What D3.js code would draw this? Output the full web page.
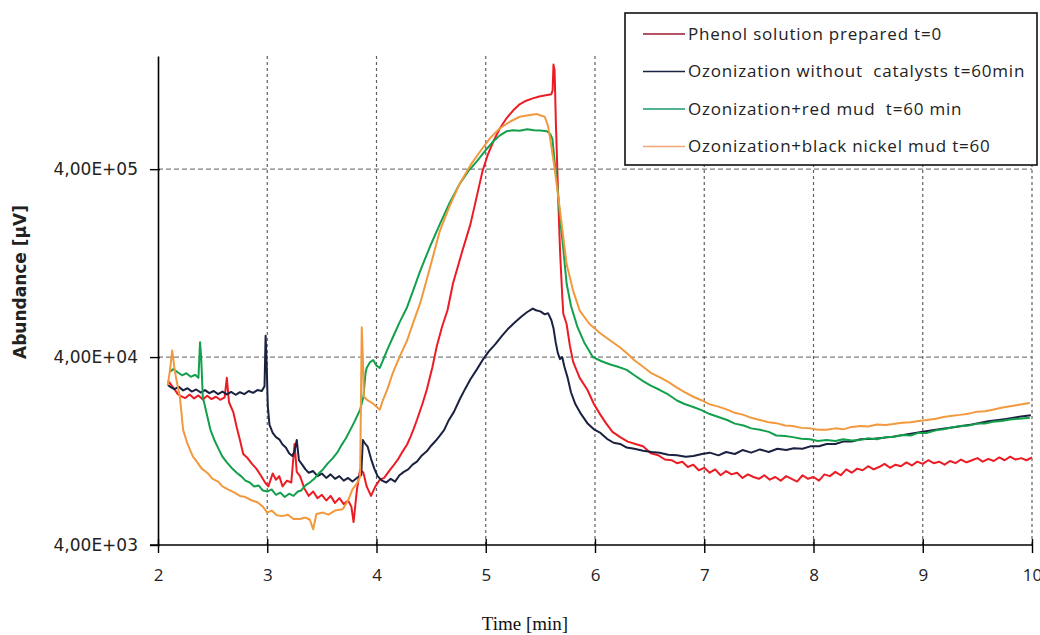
<!DOCTYPE html>
<html>
<head>
<meta charset="utf-8">
<script src="https://cdn.jsdelivr.net/npm/d3@7"></script>
<style>
  body { margin: 0; background: #fff; }
  svg { display: block; }
</style>
</head>
<body>
<div id="chart"></div>
<script>
// values: [time min, abundance µV]
const phenol = [
  [2.09,30000],[2.12,28500],[2.15,27000],[2.18,25500],[2.21,24800],[2.25,24200],[2.29,25300],[2.33,24100],
  [2.37,25000],[2.41,23800],[2.45,24900],[2.49,23900],[2.53,24600],[2.57,23700],[2.61,24400],[2.63,31000],
  [2.65,23000],[2.69,20300],[2.72,17000],[2.75,14500],[2.78,12200],[2.82,11600],[2.86,10800],[2.90,10200],
  [2.94,9400],[2.98,8600],[3.01,8200],[3.05,9600],[3.08,8900],[3.11,9300],[3.14,8200],[3.18,8800],
  [3.22,8600],[3.25,13800],[3.27,9800],[3.30,9300],[3.34,8000],[3.38,7300],[3.42,7700],[3.46,7100],
  [3.50,7400],[3.54,6900],[3.58,7300],[3.62,6700],[3.66,7100],[3.70,6600],[3.74,6900],[3.77,6400],
  [3.79,5300],[3.82,7800],[3.85,10100],[3.88,9700],[3.91,8200],[3.95,7300],[3.99,8200],[4.03,8900],
  [4.07,9100],[4.11,9800],[4.15,10500],[4.20,11500],[4.24,12600],[4.28,13700],[4.31,15000],[4.34,16600],
  [4.37,18500],[4.42,22500],[4.46,26800],[4.51,35000],[4.55,45200],[4.60,58000],[4.65,71000],[4.70,98500],
  [4.78,143000],[4.86,204000],[4.92,290000],[4.97,390000],[5.02,480000],[5.07,563000],[5.13,660000],
  [5.19,746000],[5.25,820000],[5.31,885000],[5.37,925000],[5.43,952000],[5.49,975000],[5.55,990000],
  [5.60,1000000],[5.612,1050000],[5.62,1440000],[5.63,1350000],[5.642,700000],[5.65,500000],[5.665,260000],
  [5.68,147000],[5.70,85000],[5.71,68000],[5.74,60000],[5.77,46000],[5.80,37700],[5.86,31000],[5.93,26800],
  [5.99,22500],[6.05,19700],[6.10,17800],[6.16,16000],[6.23,15000],[6.30,14200],[6.37,13800],[6.44,13400],
  [6.51,12300],[6.58,12000],[6.64,11400],[6.70,11300],[6.75,10900],[6.80,11100],[6.85,10400],[6.90,10700],
  [6.95,10000],[7.00,10300],[7.05,9700],[7.10,10100],[7.15,9400],[7.20,9900],[7.25,9500],[7.30,9700],
  [7.35,9100],[7.40,9500],[7.45,9200],[7.50,9000],[7.55,9400],[7.60,8900],[7.65,9200],[7.70,8800],
  [7.75,9300],[7.80,9000],[7.85,8700],[7.90,9400],[7.95,9000],[8.00,9200],[8.05,8800],[8.10,9500],
  [8.15,9300],[8.20,9800],[8.25,9400],[8.30,10100],[8.35,9700],[8.40,10200],[8.45,10000],[8.50,10500],
  [8.55,10100],[8.60,10400],[8.65,10800],[8.70,10300],[8.75,10700],[8.80,10500],[8.85,11000],[8.90,10600],
  [8.95,11100],[9.00,10800],[9.05,11300],[9.10,10900],[9.15,11100],[9.20,10700],[9.25,11200],[9.30,10900],
  [9.35,11400],[9.40,11000],[9.45,11300],[9.50,11600],[9.55,11100],[9.60,11500],[9.65,11200],[9.70,11700],
  [9.75,11300],[9.80,11800],[9.85,11400],[9.90,11600],[9.95,11300],[10.0,11700]
];

const ozonNoCat = [
  [2.09,28400],[2.12,27600],[2.15,27000],[2.19,27800],[2.23,26600],[2.27,27300],[2.31,26200],[2.35,26900],
  [2.39,25900],[2.43,26700],[2.47,25700],[2.51,26400],[2.55,25400],[2.59,26200],[2.63,25300],[2.67,26100],
  [2.71,25200],[2.75,26000],[2.79,25400],[2.83,26400],[2.87,25800],[2.91,26700],[2.95,26400],[2.975,28000],
  [2.985,52000],[2.995,36000],[3.005,22000],[3.02,17500],[3.05,15800],[3.08,15000],[3.11,14600],[3.14,13700],
  [3.17,13200],[3.20,12300],[3.23,11900],[3.25,12600],[3.27,14500],[3.29,11300],[3.32,10700],[3.35,10100],
  [3.38,9700],[3.42,9900],[3.46,9300],[3.50,9600],[3.54,9100],[3.58,9500],[3.62,9000],[3.66,9300],
  [3.70,8800],[3.74,9100],[3.78,8700],[3.82,9100],[3.86,9400],[3.875,14500],[3.89,14000],[3.92,13300],
  [3.95,11500],[3.98,10200],[4.01,9300],[4.05,8800],[4.09,8600],[4.13,9000],[4.17,8700],[4.21,9400],
  [4.25,9800],[4.29,10100],[4.33,10700],[4.37,11100],[4.41,11900],[4.46,12600],[4.50,13500],[4.54,14300],
  [4.58,15300],[4.62,16400],[4.66,18400],[4.71,20500],[4.76,23700],[4.81,27000],[4.86,30500],[4.92,34500],
  [4.97,38500],[5.03,43000],[5.09,47000],[5.15,52000],[5.21,57000],[5.27,61500],[5.33,66000],[5.38,69500],
  [5.43,72500],[5.46,71000],[5.50,70000],[5.54,67500],[5.57,68500],[5.60,63000],[5.62,57000],[5.64,48000],
  [5.66,42000],[5.68,39000],[5.70,40000],[5.72,35500],[5.75,31000],[5.78,26000],[5.82,22500],[5.87,20000],
  [5.93,17800],[5.99,16500],[6.05,15800],[6.11,14700],[6.17,14000],[6.23,13800],[6.29,13200],[6.36,13000],
  [6.44,12700],[6.52,12500],[6.59,12400],[6.67,12100],[6.75,12000],[6.83,11800],[6.90,11900],[6.98,12200],
  [7.05,12400],[7.13,12000],[7.20,12500],[7.28,12200],[7.35,12800],[7.43,12400],[7.51,12900],[7.59,12500],
  [7.67,13000],[7.75,12800],[7.82,13100],[7.90,13000],[7.97,13400],[8.05,13400],[8.12,13800],[8.20,13800],
  [8.27,14200],[8.35,14200],[8.43,14600],[8.55,14700],[8.70,15000],[8.85,15500],[9.00,16000],[9.15,16500],
  [9.30,17000],[9.45,17500],[9.60,18200],[9.75,18700],[9.90,19300],[9.99,19600]
];

const ozonRedMud = [
  [2.11,33400],[2.14,34500],[2.18,33200],[2.22,32000],[2.26,32800],[2.30,31400],[2.34,32200],[2.37,31000],
  [2.385,48000],[2.395,40000],[2.41,24600],[2.45,19500],[2.48,16400],[2.52,14300],[2.56,12800],[2.59,11800],
  [2.63,11000],[2.68,10200],[2.72,9700],[2.76,9300],[2.80,8800],[2.84,8600],[2.88,8200],[2.92,8300],
  [2.96,7800],[3.00,7700],[3.04,7900],[3.08,7400],[3.12,7600],[3.16,7200],[3.20,7500],[3.24,7300],
  [3.28,7700],[3.31,7800],[3.35,8300],[3.39,8600],[3.43,9000],[3.47,9600],[3.51,10100],[3.55,10800],
  [3.60,11600],[3.64,12400],[3.68,13600],[3.72,14800],[3.76,16400],[3.80,18200],[3.85,21000],[3.88,24600],
  [3.90,33000],[3.91,35000],[3.94,37500],[3.97,38600],[4.00,36000],[4.03,35000],[4.06,38500],[4.10,44000],
  [4.15,51000],[4.21,61000],[4.28,73700],[4.34,92000],[4.40,115000],[4.49,155000],[4.58,204000],[4.67,265000],
  [4.76,333000],[4.84,390000],[4.92,441000],[5.00,505000],[5.07,563000],[5.13,605000],[5.19,636000],
  [5.25,645000],[5.31,640000],[5.38,652000],[5.44,645000],[5.50,642000],[5.56,636000],[5.59,615000],
  [5.61,580000],[5.63,441000],[5.655,330000],[5.68,220000],[5.71,150000],[5.74,98500],[5.78,75000],
  [5.84,57700],[5.90,48000],[5.98,40000],[6.06,38000],[6.14,36500],[6.21,35500],[6.29,34200],[6.36,32000],
  [6.44,29800],[6.51,28200],[6.59,26800],[6.67,25300],[6.75,23500],[6.82,22500],[6.90,21700],[6.98,20800],
  [7.05,19900],[7.13,19200],[7.21,18500],[7.28,17700],[7.36,17300],[7.43,16700],[7.51,16400],[7.59,16000],
  [7.66,15300],[7.74,15200],[7.81,15000],[7.89,14700],[7.97,14600],[8.04,14300],[8.12,14500],[8.20,14300],
  [8.27,14600],[8.35,14400],[8.43,14500],[8.50,14800],[8.58,14600],[8.66,15000],[8.73,15000],[8.81,15400],
  [8.89,15300],[8.96,15800],[9.04,15800],[9.12,16300],[9.19,16500],[9.27,16900],[9.34,17200],[9.42,17300],
  [9.50,17700],[9.57,17700],[9.64,18100],[9.72,18300],[9.80,18600],[9.88,18800],[9.98,19000]
];

const ozonNiMud = [
  [2.09,28400],[2.11,34200],[2.13,43400],[2.15,35000],[2.17,30000],[2.20,24600],[2.23,16400],[2.27,13800],
  [2.32,11800],[2.36,11000],[2.40,10200],[2.45,9700],[2.50,9000],[2.55,8700],[2.59,8200],[2.64,7900],
  [2.70,7600],[2.75,7300],[2.80,7200],[2.86,6900],[2.91,6750],[2.96,6400],[3.00,5950],[3.04,6100],
  [3.09,5750],[3.14,5700],[3.19,5800],[3.24,5500],[3.30,5500],[3.35,5600],[3.39,5450],[3.42,4850],
  [3.45,5850],[3.51,5950],[3.56,5800],[3.62,6100],[3.69,6200],[3.74,6900],[3.78,7900],[3.82,8500],
  [3.85,9200],[3.865,57700],[3.875,40000],[3.885,24600],[3.92,23500],[3.97,22600],[4.01,21500],[4.03,21000],
  [4.06,23700],[4.10,27000],[4.15,33000],[4.21,40000],[4.28,49000],[4.34,62000],[4.40,77400],[4.49,120000],
  [4.58,188000],[4.67,255000],[4.76,333000],[4.86,420000],[4.95,498000],[5.04,585000],[5.13,660000],
  [5.22,715000],[5.31,760000],[5.39,775000],[5.47,785000],[5.51,770000],[5.54,760000],[5.57,680000],
  [5.59,580000],[5.63,405000],[5.68,240000],[5.74,125000],[5.80,90000],[5.86,70700],[5.95,60000],
  [6.05,53400],[6.14,49000],[6.23,45000],[6.29,42000],[6.36,38500],[6.44,35500],[6.51,33000],[6.59,31300],
  [6.67,29500],[6.75,27500],[6.82,26000],[6.90,24600],[6.98,23500],[7.05,22400],[7.13,21800],[7.21,21000],
  [7.28,20200],[7.36,19700],[7.43,19000],[7.51,18500],[7.59,18000],[7.66,17800],[7.74,17300],[7.81,17200],
  [7.89,16800],[7.97,16700],[8.04,16400],[8.12,16400],[8.20,16700],[8.27,16500],[8.35,17000],[8.43,17200],
  [8.50,17100],[8.58,17500],[8.66,17400],[8.73,17600],[8.81,17900],[8.89,18000],[8.96,18300],[9.04,18500],
  [9.12,18800],[9.19,19200],[9.27,19500],[9.34,19700],[9.42,20000],[9.50,20500],[9.57,20600],[9.64,21000],
  [9.72,21500],[9.80,21900],[9.88,22300],[9.98,22800]
];

const seriesNames = [
  "Phenol solution prepared t=0",
  "Ozonization without  catalysts t=60min",
  "Ozonization+red mud  t=60 min",
  "Ozonization+black nickel mud t=60"
];
const seriesColors = ["#ec1c24", "#1b2140", "#13a04c", "#f2993e"];
const legendColors = ["#9c1830", "#1b2140", "#1a9a6a", "#f0a878"];
const xTicks = [2, 3, 4, 5, 6, 7, 8, 9, 10];
const yTicks = [4000, 40000, 400000];

const width = 1040,
  height = 635;
const plot = { left: 158, right: 1032, top: 56, bottom: 545 };

const svg = d3
  .select("#chart")
  .append("svg")
  .attr("width", width)
  .attr("height", height);

const x = d3.scaleLinear().domain([2, 10]).range([plot.left, plot.right]);
const y = d3.scaleLog().domain([4000, 1.6e6]).range([plot.bottom, plot.top]);

// gridlines
svg
  .append("g")
  .selectAll("line")
  .data(yTicks.slice(1))
  .enter()
  .append("line")
  .attr("x1", plot.left)
  .attr("x2", plot.right)
  .attr("y1", (d) => y(d))
  .attr("y2", (d) => y(d))
  .attr("stroke", "#808080")
  .attr("stroke-width", 1.2)
  .attr("stroke-dasharray", "5,3");

svg
  .append("g")
  .selectAll("line")
  .data(xTicks.slice(1))
  .enter()
  .append("line")
  .attr("x1", (d) => x(d))
  .attr("x2", (d) => x(d))
  .attr("y1", plot.top)
  .attr("y2", plot.bottom)
  .attr("stroke", "#606060")
  .attr("stroke-width", 1.2)
  .attr("stroke-dasharray", "3,3");

// curves
const line = d3
  .line()
  .x((d) => x(d[0]))
  .y((d) => y(d[1]));

[phenol, ozonNoCat, ozonRedMud, ozonNiMud].forEach((s, i) => {
  svg
    .append("path")
    .datum(s)
    .attr("fill", "none")
    .attr("stroke", seriesColors[i])
    .attr("stroke-width", 2)
    .attr("stroke-linejoin", "round")
    .attr("d", line);
});

// axes
const yAxis = svg
  .append("g")
  .attr("transform", `translate(${plot.left},0)`)
  .call(
    d3
      .axisLeft(y)
      .tickValues(yTicks)
      .tickSizeInner(8)
      .tickSizeOuter(0)
      .tickPadding(12)
      .tickFormat((d) => `4,00E+0${Math.floor(Math.log10(d))}`)
  );
yAxis.select(".domain").attr("stroke", "#000").attr("stroke-width", 1.6);
yAxis.selectAll(".tick line").attr("x1", 2).attr("stroke-width", 1.4);
yAxis
  .selectAll("text")
  .attr("fill", "#222")
  .style("font-family", "'DejaVu Sans', sans-serif")
  .style("font-size", "17px");

const xAxis = svg
  .append("g")
  .attr("transform", `translate(0,${plot.bottom})`)
  .call(d3.axisBottom(x).tickValues(xTicks).tickSizeInner(8).tickSizeOuter(0).tickPadding(16));
xAxis.select(".domain").attr("stroke", "#000").attr("stroke-width", 1.6).attr("d", `M${plot.left - 8},0H${plot.right}`);
xAxis.selectAll(".tick line").attr("y1", -6).attr("stroke-width", 1.4);
xAxis
  .selectAll("text")
  .attr("fill", "#222")
  .style("font-family", "'Open Sans', sans-serif")
  .style("font-size", "17px");

// axis titles
svg
  .append("text")
  .attr("transform", "translate(26,282) rotate(-90)")
  .attr("text-anchor", "middle")
  .style("font-family", "'DejaVu Sans', sans-serif")
  .style("font-weight", "bold")
  .style("font-size", "17px")
  .attr("fill", "#222")
  .text("Abundance [µV]");

svg
  .append("text")
  .attr("x", 525)
  .attr("y", 630)
  .attr("text-anchor", "middle")
  .style("font-family", "'Liberation Serif', serif")
  .style("font-size", "19px")
  .attr("fill", "#111")
  .text("Time [min]");

// legend
const legend = svg.append("g");
legend
  .append("rect")
  .attr("x", 625)
  .attr("y", 13)
  .attr("width", 412)
  .attr("height", 152)
  .attr("fill", "#fff")
  .attr("stroke", "#111")
  .attr("stroke-width", 1.6);

const rows = legend
  .selectAll(".row")
  .data(seriesNames)
  .enter()
  .append("g")
  .attr("transform", (d, i) => `translate(0,${34 + i * 37.5})`);

rows
  .append("line")
  .attr("x1", 643)
  .attr("x2", 685)
  .attr("stroke", (d, i) => legendColors[i])
  .attr("stroke-width", 1.4);

rows
  .append("text")
  .attr("x", 688)
  .attr("dy", "0.35em")
  .style("font-family", "'Open Sans', sans-serif")
  .style("font-size", "17px")
  .style("letter-spacing", "0.8px")
  .attr("fill", "#222")
  .style("white-space", "pre")
  .text((d) => d);
</script>
</body>
</html>
